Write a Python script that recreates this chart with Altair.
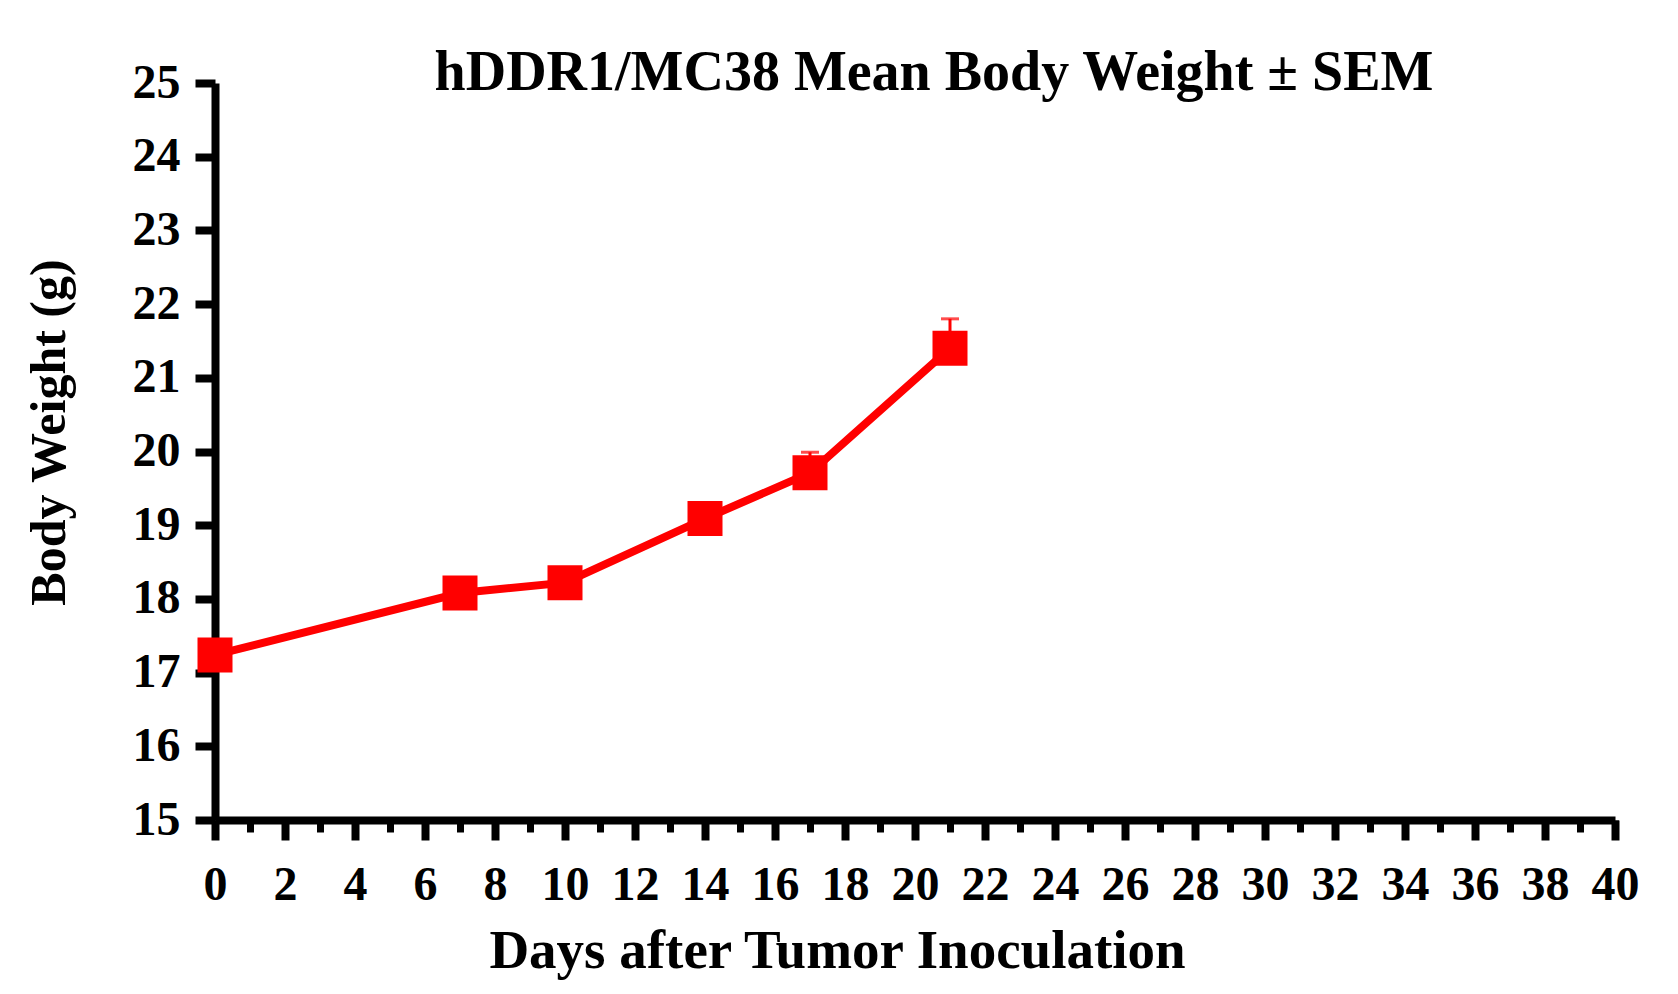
import altair as alt
import pandas as pd

# ---- data ----
days = [0, 7, 10, 14, 17, 21]
mean_weight = [17.24, 18.08, 18.22, 19.09, 19.71, 21.40]
sem_weight = [0.15, 0.12, 0.14, 0.18, 0.28, 0.40]
y_ticks = list(range(15, 26))
x_major = list(range(0, 41, 2))
x_minor = list(range(0, 41))

df = pd.DataFrame({"day": days, "mean": mean_weight, "sem": sem_weight})
df["upper"] = df["mean"] + df["sem"]

FONT = "Liberation Serif"
RED = "#FF0000"
BLACK = "#000000"

xscale = alt.Scale(domain=[0, 40], nice=False, zero=False)
yscale = alt.Scale(domain=[15, 25], nice=False, zero=False)

yaxis = alt.Axis(
    values=y_ticks, format="d", tickSize=20, tickWidth=8, tickColor=BLACK,
    domainWidth=8, domainColor=BLACK, grid=False,
    labelFont=FONT, labelFontSize=48, labelFontWeight="bold", labelColor=BLACK,
    labelPadding=15, labelFlush=False, labelOverlap=False,
    titleFont=FONT, titleFontSize=50, titleFontWeight="bold", titleColor=BLACK,
    titlePadding=58, titleY=349,
)

x_major_axis = alt.Axis(
    values=x_major, format="d", tickSize=20, tickWidth=8, tickColor=BLACK,
    domainWidth=8, domainColor=BLACK, grid=False,
    labelFont=FONT, labelFontSize=48, labelFontWeight="bold", labelColor=BLACK,
    labelPadding=21, labelFlush=False, labelOverlap=False,
    titleFont=FONT, titleFontSize=55, titleFontWeight="bold", titleColor=BLACK,
    titlePadding=15, titleX=622, orient="bottom",
)

x_minor_axis = alt.Axis(
    values=x_minor, tickSize=12, tickWidth=7, tickColor=BLACK,
    domain=False, labels=False, grid=False, orient="bottom",
)

base = alt.Chart(df)

err = base.mark_rule(color=RED, strokeWidth=3).encode(
    x=alt.X("day:Q", scale=xscale, axis=x_major_axis, title="Days after Tumor Inoculation"),
    y=alt.Y("mean:Q", scale=yscale, axis=yaxis, title="Body Weight (g)"),
    y2="upper:Q",
)

cap = base.mark_tick(color=RED, orient="horizontal", size=18, thickness=3).encode(
    x=alt.X("day:Q", scale=xscale, axis=None),
    y=alt.Y("upper:Q", scale=yscale),
)

line = base.mark_line(color=RED, strokeWidth=8).encode(
    x=alt.X("day:Q", scale=xscale, axis=x_minor_axis, title=""),
    y=alt.Y("mean:Q", scale=yscale),
)

pts = base.mark_square(color=RED, size=1225, opacity=1, filled=True).encode(
    x=alt.X("day:Q", scale=xscale, axis=None),
    y=alt.Y("mean:Q", scale=yscale),
)

chart = (
    alt.layer(err, cap, line, pts)
    .resolve_axis(x="independent")
    .properties(
        width=1400,
        height=737,
        background="white",
        title=alt.TitleParams(
            text="hDDR1/MC38 Mean Body Weight ± SEM",
            font=FONT, fontSize=56, fontWeight="bold", color=BLACK,
            frame="group", anchor="middle", dx=19, offset=-87,
            baseline="alphabetic",
        ),
        autosize=alt.AutoSizeParams(type="none"),
        padding={"left": 207, "top": 75, "right": 40, "bottom": 170},
    )
    .configure_view(stroke="transparent", strokeWidth=0)
)

chart.save("out.html", embed_options={"renderer": "svg", "actions": False})
